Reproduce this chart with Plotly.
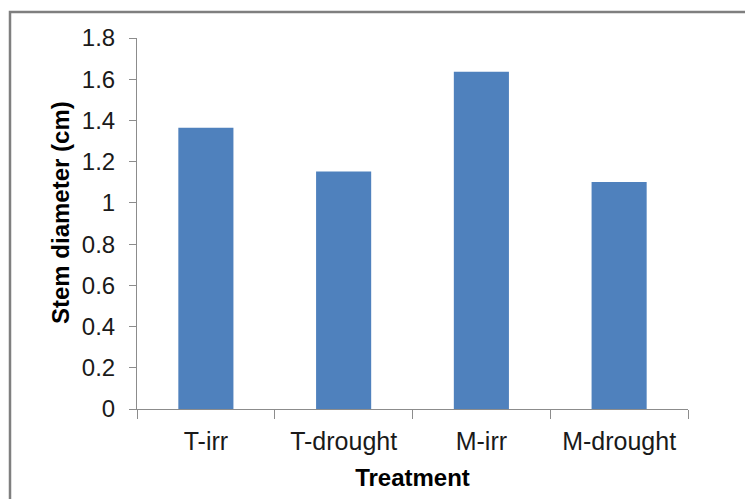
import plotly.graph_objects as go

categories = ["T-irr", "T-drought", "M-irr", "M-drought"]
stem_diameter = [1.365, 1.152, 1.636, 1.101]
y_tick_values = [0, 0.2, 0.4, 0.6, 0.8, 1.0, 1.2, 1.4, 1.6, 1.8]
y_tick_labels = ["0", "0.2", "0.4", "0.6", "0.8", "1", "1.2", "1.4", "1.6", "1.8"]

W, H = 745, 499
L, R, T, B = 137, 57, 38, 90
pw, ph = W - L - R, H - T - B

fig = go.Figure(go.Bar(x=categories, y=stem_diameter, marker_color="#4f81bd",
                       marker_line_width=0))

font = "Liberation Sans, Arial, sans-serif"
axis_col = "#8c8c8c"
txt_col = "#1a1a1a"

fig.update_layout(
    width=W, height=H,
    margin=dict(l=L, r=R, t=T, b=B, autoexpand=False),
    paper_bgcolor="white", plot_bgcolor="white",
    bargap=0.6, showlegend=False,
    font=dict(family=font, size=24, color=txt_col),
    xaxis=dict(
        showline=True, linecolor=axis_col, linewidth=1,
        ticks="outside", tickson="boundaries", ticklen=9, tickcolor=axis_col,
        ticklabelstandoff=10,
        tickfont=dict(size=25, family=font, color=txt_col),
        title=dict(text="<b>Treatment</b>", font=dict(size=24, family=font, color="#000"),
                   standoff=15),
        showgrid=False,
    ),
    yaxis=dict(
        range=[0, 1.8], showline=True, linecolor=axis_col, linewidth=1,
        ticks="outside", ticklen=7, tickcolor=axis_col,
        ticklabelstandoff=9,
        tickvals=y_tick_values, ticktext=y_tick_labels,
        tickfont=dict(size=24, family=font, color=txt_col),
        showgrid=False, zeroline=False,
    ),
    annotations=[dict(text="<b>Stem diameter (cm)</b>", textangle=-90,
                      xref="paper", yref="paper",
                      x=(60 - L) / pw, y=(H - B - 213) / ph,
                      xanchor="center", yanchor="middle", showarrow=False,
                      font=dict(size=24, family=font, color="#000"))],
    shapes=[dict(type="rect", xref="paper", yref="paper",
                 x0=(10 - L) / pw, x1=(W + 20 - L) / pw,
                 y0=(H - B - (H + 20)) / ph, y1=(H - B - 12) / ph,
                 line=dict(color="#7f7f7f", width=2.5), fillcolor="rgba(0,0,0,0)",
                 layer="below")],
)

fig.write_html("out.html")
